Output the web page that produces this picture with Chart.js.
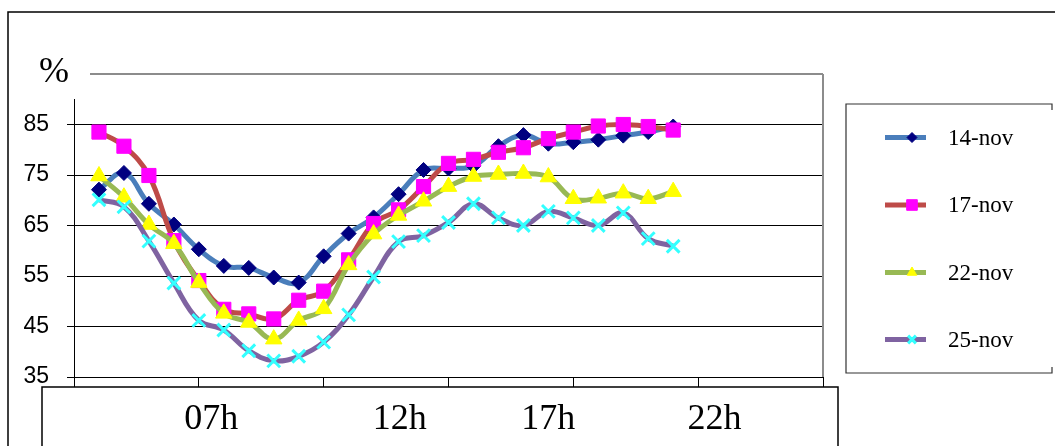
<!DOCTYPE html>
<html>
<head>
<meta charset="utf-8">
<script src="https://cdn.jsdelivr.net/npm/chart.js@4.4.1/dist/chart.umd.min.js"></script>
<style>
  html, body { margin: 0; padding: 0; background: #fff; }
  canvas { display: block; }
</style>
</head>
<body>
<canvas id="c" width="1055" height="446"></canvas>
<script>
// Hourly readings, placed at positions 1..24 on a 0..30 horizontal scale
const positions = [1, 2, 3, 4, 5, 6, 7, 8, 9, 10, 11, 12, 13, 14, 15, 16, 17, 18, 19, 20, 21, 22, 23, 24];

const nov14 = [72.1, 75.4, 69.3, 65.2, 60.3, 57.0, 56.6, 54.7, 53.7, 58.9, 63.4, 66.6,
               71.2, 76.0, 76.3, 76.8, 80.7, 82.9, 81.2, 81.5, 82.0, 82.8, 83.5, 84.6];
const nov17 = [83.5, 80.7, 74.9, 62.0, 54.1, 48.4, 47.5, 46.5, 50.2, 52.0, 58.2, 65.4,
               68.1, 72.7, 77.3, 78.1, 79.5, 80.4, 82.2, 83.5, 84.7, 85.0, 84.6, 83.9];
const nov22 = [74.8, 70.6, 65.2, 61.4, 53.7, 47.6, 45.8, 42.5, 46.2, 48.5, 57.2, 63.3,
               67.0, 69.8, 72.7, 74.7, 75.1, 75.3, 74.6, 70.3, 70.4, 71.4, 70.3, 71.7];
const nov25 = [70.1, 68.7, 61.9, 53.6, 46.2, 44.3, 40.2, 38.2, 39.1, 41.9, 47.3, 54.8,
               61.8, 63.0, 65.6, 69.3, 66.5, 65.0, 67.8, 66.5, 65.0, 67.5, 62.4, 60.9];

const seriesNames = ['14-nov', '17-nov', '22-nov', '25-nov'];
const yTickValues = [35, 45, 55, 65, 75, 85, 95];
const hourLabels = ['07h', '12h', '17h', '22h'];
const hourLabelPos = [5.5, 13.05, 19.0, 25.65];
const unitLabel = '%';

const toPoints = vals => positions.map((x, i) => ({ x: x, y: vals[i] }));

const styles = [
  { line: '#4A7EBB', fill: '#000080', point: 'rectRot', r: 7.5, lr: 5, bw: 1 },
  { line: '#BE4B48', fill: '#FF00FF', point: 'rect', r: 10, lr: 7.5, bw: 1 },
  { line: '#98B954', fill: '#FFFF00', point: 'triangle', r: 9.5, lr: 5.5, bw: 1 },
  { line: '#7F63A1', fill: '#33FFFF', point: 'crossRot', r: 9, lr: 5.5, bw: 3 }
];
const seriesValues = [nov14, nov17, nov22, nov25];

const datasets = seriesValues.map((vals, i) => ({
  label: seriesNames[i],
  data: toPoints(vals),
  borderColor: styles[i].line,
  borderWidth: 5,
  tension: 0.4,
  pointStyle: styles[i].point,
  pointRadius: styles[i].r,
  pointBackgroundColor: styles[i].fill,
  pointBorderColor: styles[i].fill,
  pointBorderWidth: styles[i].bw,
  order: seriesValues.length - i
}));

// Frames, the unit label, the hour box and the legend
const decor = {
  id: 'decor',
  beforeDraw(chart) {
    const ctx = chart.ctx;
    ctx.save();
    ctx.fillStyle = '#fff';
    ctx.fillRect(0, 0, chart.width, chart.height);
    ctx.restore();
  },
  afterDraw(chart) {
    const ctx = chart.ctx;
    const a = chart.chartArea;
    ctx.save();

    // right edge of the plot frame
    ctx.strokeStyle = '#8c8c8c';
    ctx.lineWidth = 2;
    ctx.beginPath();
    ctx.moveTo(a.right, a.top);
    ctx.lineTo(a.right, a.bottom);
    ctx.stroke();

    // unit label box
    ctx.fillStyle = '#fff';
    ctx.fillRect(17, 35, a.left + 16 - 17, 99 - 35);
    ctx.fillStyle = '#000';
    ctx.font = '36px "Liberation Serif", "Times New Roman", serif';
    ctx.textAlign = 'left';
    ctx.textBaseline = 'alphabetic';
    ctx.fillText(unitLabel, 39, 82);

    // outer frame
    ctx.strokeStyle = '#000';
    ctx.lineWidth = 1.5;
    ctx.beginPath();
    ctx.moveTo(8, chart.height);
    ctx.lineTo(8, 12);
    ctx.lineTo(chart.width, 12);
    ctx.stroke();

    // hour label box
    ctx.lineWidth = 1.5;
    ctx.beginPath();
    ctx.moveTo(42, chart.height);
    ctx.lineTo(42, a.bottom + 10);
    ctx.lineTo(a.right + 15, a.bottom + 10);
    ctx.lineTo(a.right + 15, chart.height);
    ctx.stroke();

    // legend box
    const lx = 846, ly = 104, lr = 1052, lb = 373;
    ctx.strokeStyle = '#333';
    ctx.lineWidth = 1.2;
    ctx.beginPath();
    ctx.moveTo(lr, ly + 6);
    ctx.lineTo(lr, ly);
    ctx.lineTo(lx, ly);
    ctx.lineTo(lx, lb);
    ctx.lineTo(lr, lb);
    ctx.lineTo(lr, lb - 6);
    ctx.stroke();

    const itemY = [137.5, 205, 272.5, 339.5];
    chart.data.datasets.forEach((ds, i) => {
      const y = itemY[i];
      ctx.strokeStyle = ds.borderColor;
      ctx.lineWidth = 5;
      ctx.lineCap = 'butt';
      ctx.beginPath();
      ctx.moveTo(885, y);
      ctx.lineTo(926, y);
      ctx.stroke();
      ctx.fillStyle = ds.pointBackgroundColor;
      ctx.strokeStyle = ds.pointBorderColor;
      ctx.lineWidth = ds.pointBorderWidth;
      if (Chart.helpers && Chart.helpers.drawPoint) {
        Chart.helpers.drawPoint(ctx, {
          pointStyle: ds.pointStyle,
          radius: styles[i].lr,
          rotation: 0,
          borderWidth: ds.pointBorderWidth
        }, 912, y);
      }
      ctx.fillStyle = '#000';
      ctx.font = '23px "Liberation Serif", "Times New Roman", serif';
      ctx.textAlign = 'left';
      ctx.textBaseline = 'middle';
      ctx.fillText(ds.label, 948, y + 1);
    });

    ctx.restore();
  }
};

new Chart(document.getElementById('c'), {
  type: 'line',
  data: { datasets: datasets },
  plugins: [decor],
  options: {
    responsive: false,
    devicePixelRatio: 1,
    animation: false,
    layout: { padding: { top: 74, right: 232, bottom: 0, left: 0 } },
    plugins: {
      legend: { display: false },
      tooltip: { enabled: false }
    },
    scales: {
      x: {
        type: 'linear',
        position: 'bottom',
        weight: 0,
        min: 0,
        max: 30,
        ticks: { display: false, stepSize: 5 },
        grid: { drawOnChartArea: false, drawTicks: true, tickLength: 10, color: '#000', lineWidth: 1 },
        border: { display: true, color: '#000', width: 1 },
        afterFit(scale) { scale.height = 10; }
      },
      x2: {
        type: 'linear',
        position: 'bottom',
        weight: 1,
        min: 0,
        max: 30,
        afterBuildTicks(scale) { scale.ticks = hourLabelPos.map(v => ({ value: v })); },
        ticks: {
          autoSkip: false,
          maxRotation: 0,
          padding: 11,
          color: '#000',
          font: { family: '"Liberation Serif", "Times New Roman", serif', size: 36 },
          callback: (v, i) => hourLabels[i]
        },
        grid: { display: false, drawTicks: false },
        border: { display: false },
        afterFit(scale) { scale.height = 59; }
      },
      y: {
        type: 'linear',
        min: 35,
        max: 95,
        afterBuildTicks(scale) { scale.ticks = yTickValues.map(v => ({ value: v })); },
        ticks: {
          padding: 18,
          color: '#000',
          font: { family: '"Liberation Sans", Arial, sans-serif', size: 23 },
          callback: v => (v === 95 ? '' : String(v))
        },
        grid: {
          drawTicks: true,
          tickLength: 7,
          color: ctx => (ctx.tick && ctx.tick.value === 95 ? '#8c8c8c' : '#000'),
          lineWidth: ctx => (ctx.tick && ctx.tick.value === 95 ? 2 : 1)
        },
        border: { display: true, color: '#000', width: 1 },
        afterFit(scale) { scale.width = 74; }
      }
    }
  }
});
</script>
</body>
</html>
